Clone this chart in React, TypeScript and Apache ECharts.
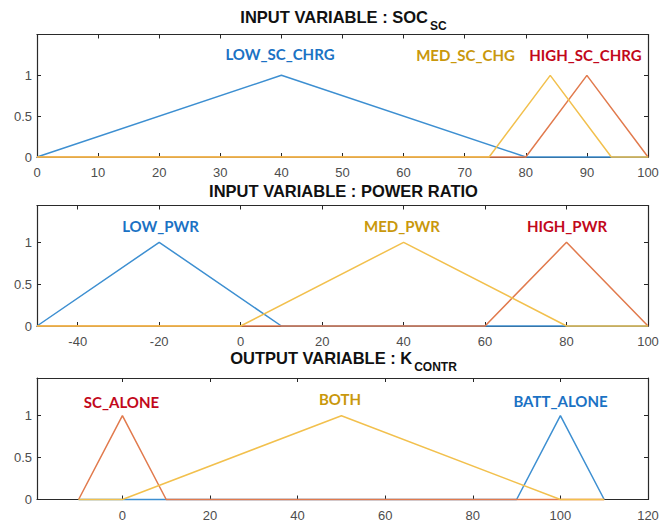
import React, { useEffect, useRef } from "react";
import * as echarts from "echarts";

// ---- data ----
const socTicks = [0, 10, 20, 30, 40, 50, 60, 70, 80, 90, 100];
const pwrTicks = [-40, -20, 0, 20, 40, 60, 80, 100];
const kTicks = [0, 20, 40, 60, 80, 100, 120];
const yTicks = [0, 0.5, 1];

// membership functions (x, membership)
const lowScChrg = [[0, 0], [40, 1], [80, 0], [100, 0]];
const highScChrg = [[0, 0], [80, 0], [90, 1], [100, 0]];
const medScChg = [[0, 0], [74, 0], [84, 1], [94, 0], [100, 0]];

const lowPwr = [[-50, 0], [-20, 1], [10, 0], [100, 0]];
const highPwr = [[-50, 0], [60, 0], [80, 1], [100, 0]];
const medPwr = [[-50, 0], [0, 0], [40, 1], [80, 0], [100, 0]];

const battAlone = [[-10, 0], [90, 0], [100, 1], [110, 0]];
const scAlone = [[-10, 0], [0, 1], [10, 0], [110, 0]];
const both = [[-10, 0], [0, 0], [50, 1], [100, 0], [110, 0]];

const BLUE = "#3d8fd1";
const ORANGE = "#e17a4d";
const YELLOW = "#f2c04d";
const LBL_BLUE = "#1b72c4";
const LBL_GOLD = "#c9980c";
const LBL_RED = "#c2081b";

export default function App() {
  const ref = useRef<HTMLDivElement>(null);
  useEffect(() => {
    if (!ref.current) return;
    const chart = echarts.init(ref.current, undefined, { renderer: "svg" });
    const grids = [
      { left: 37, width: 611, top: 34.5, height: 122.5 },
      { left: 37, width: 611, top: 205.5, height: 120.5 },
      { left: 37, width: 611, top: 378, height: 121.5 },
    ];
    const axLine = { show: true, onZero: false, lineStyle: { color: "#2a2a2a", width: 1.2 } };
    const lblFont = { color: "#4d4d4d", fontSize: 13, fontFamily: "Liberation Sans" };
    const xRanges = [
      { min: 0, max: 100, ticks: socTicks },
      { min: -50, max: 100, ticks: pwrTicks },
      { min: -19.5, max: 120, ticks: kTicks },
    ];
    const yMax = [1.5, 1.44, 1.45];
    const xAxis: any[] = [];
    const yAxis: any[] = [];
    grids.forEach((g, i) => {
      const r = xRanges[i];
      xAxis.push({
        type: "value", gridIndex: i, min: r.min, max: r.max, position: "bottom",
        axisLine: axLine, splitLine: { show: false },
        axisTick: { show: true, inside: true, length: 4, customValues: r.ticks, lineStyle: { color: "#262626" } },
        axisLabel: { ...lblFont, margin: 9, customValues: r.ticks },
      });
      xAxis.push({
        type: "value", gridIndex: i, min: r.min, max: r.max, position: "top",
        axisLine: axLine, splitLine: { show: false },
        axisTick: { show: true, inside: true, length: 4, customValues: r.ticks, lineStyle: { color: "#262626" } },
        axisLabel: { show: false },
      });
      yAxis.push({
        type: "value", gridIndex: i, min: 0, max: yMax[i], position: "left",
        axisLine: axLine, splitLine: { show: false },
        axisTick: { show: true, inside: true, length: 4, customValues: yTicks, lineStyle: { color: "#262626" } },
        axisLabel: { ...lblFont, margin: 5, customValues: yTicks },
      });
      yAxis.push({
        type: "value", gridIndex: i, min: 0, max: yMax[i], position: "right",
        axisLine: axLine, splitLine: { show: false },
        axisTick: { show: true, inside: true, length: 4, customValues: yTicks, lineStyle: { color: "#262626" } },
        axisLabel: { show: false },
      });
    });
    const mk = (name: string, data: number[][], color: string, gi: number) => ({
      name, type: "line", data, xAxisIndex: gi * 2, yAxisIndex: gi * 2,
      symbol: "none", clip: false, lineStyle: { color, width: 1.5 }, silent: true,
    });
    const series = [
      mk("LOW_SC_CHRG", lowScChrg, BLUE, 0),
      mk("HIGH_SC_CHRG", highScChrg, ORANGE, 0),
      mk("MED_SC_CHG", medScChg, YELLOW, 0),
      mk("LOW_PWR", lowPwr, BLUE, 1),
      mk("HIGH_PWR", highPwr, ORANGE, 1),
      mk("MED_PWR", medPwr, YELLOW, 1),
      mk("BATT_ALONE", battAlone, BLUE, 2),
      mk("SC_ALONE", scAlone, ORANGE, 2),
      mk("BOTH", both, YELLOW, 2),
    ];
    const titleText = (main: string, sub: string, y: number) => ({
      type: "text", x: 343.5, y,
      style: {
        text: sub ? `{a|${main}}{b|${sub}}` : `{a|${main}}`,
        align: "center", verticalAlign: "middle",
        rich: {
          a: { fontSize: 16.5, fontWeight: "bold", fontFamily: "Liberation Sans", fill: "#111111", lineHeight: 20 },
          b: { fontSize: 12, fontWeight: "bold", fontFamily: "Liberation Sans", fill: "#111111", padding: [18, 0, 0, 2], lineHeight: 14 },
        },
      },
    });
    const mfText = (t: string, x: number, y: number, fill: string) => ({
      type: "text", x, y,
      style: { text: t, align: "center", verticalAlign: "middle", fontSize: 15, fontWeight: "bold", fontFamily: "Lato", fill },
    });
    const graphic = [
      titleText("INPUT VARIABLE : SOC", "SC", 17),
      titleText("INPUT VARIABLE : POWER RATIO", "", 191),
      titleText("OUTPUT VARIABLE : K", "CONTR", 358),
      mfText("LOW_SC_CHRG", 280, 53.5, LBL_BLUE),
      mfText("MED_SC_CHG", 465.5, 55, LBL_GOLD),
      mfText("HIGH_SC_CHRG", 585.5, 55, LBL_RED),
      mfText("LOW_PWR", 160.5, 226, LBL_BLUE),
      mfText("MED_PWR", 402, 226, LBL_GOLD),
      mfText("HIGH_PWR", 567, 226, LBL_RED),
      mfText("SC_ALONE", 121.5, 402, LBL_RED),
      mfText("BOTH", 340, 399, LBL_GOLD),
      mfText("BATT_ALONE", 560.5, 401, LBL_BLUE),
    ];
    chart.setOption({
      animation: false,
      backgroundColor: "#ffffff",
      grid: grids,
      xAxis,
      yAxis,
      series,
      graphic,
    });
    return () => chart.dispose();
  }, []);
  return <div ref={ref} style={{ position: "fixed", left: 0, top: 0, width: 662, height: 524 }} />;
}
